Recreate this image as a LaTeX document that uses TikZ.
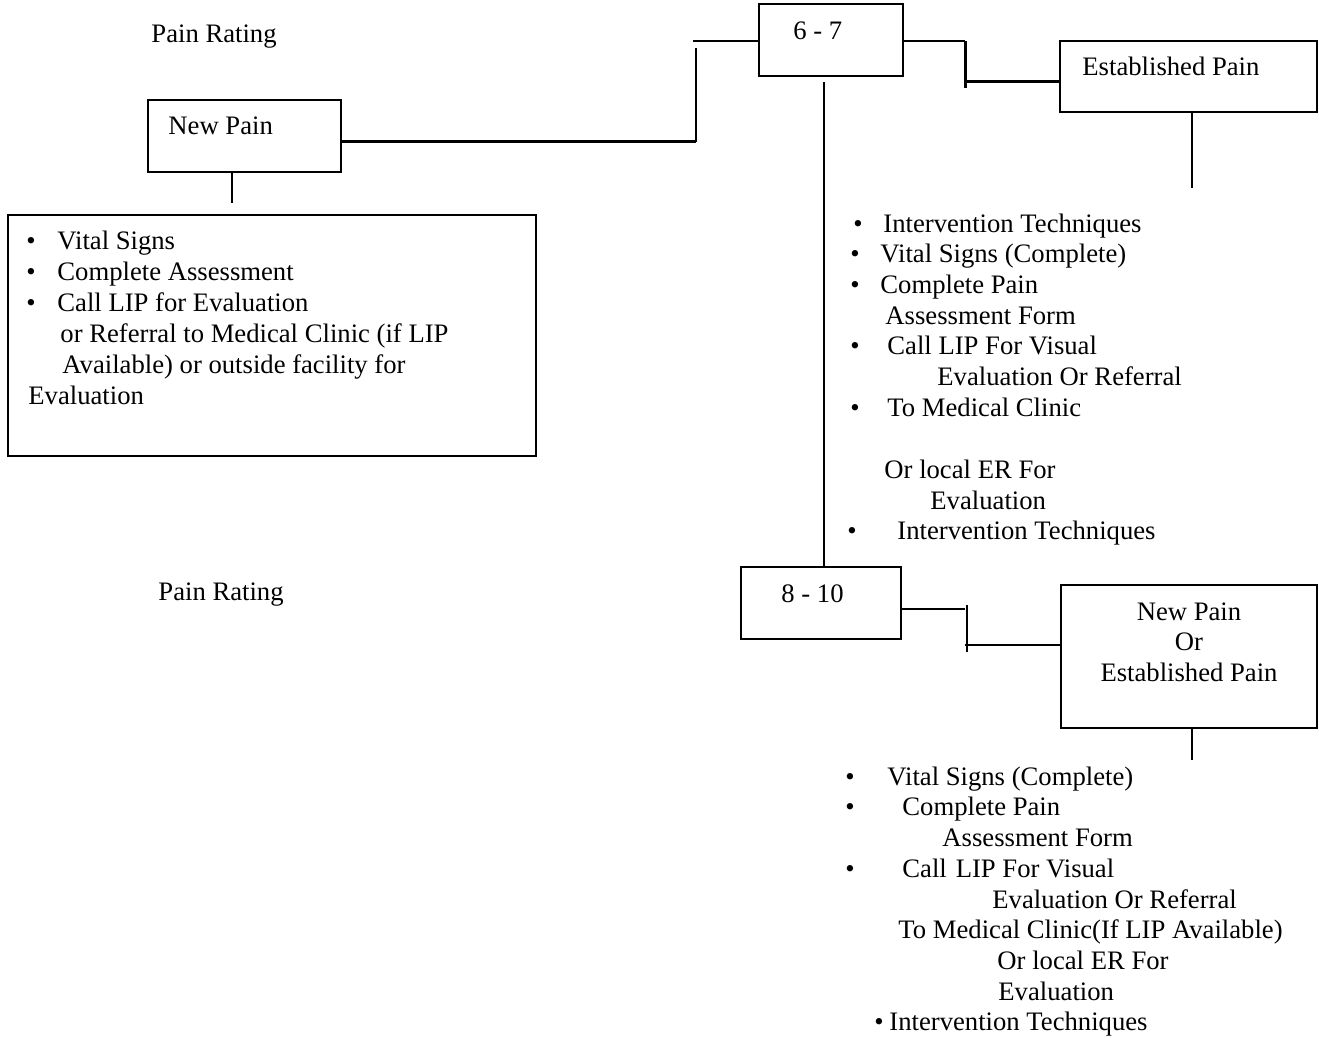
\documentclass[tikz,border=0pt]{standalone}
\usepackage{fontspec}
\setmainfont{Liberation Serif}
\usepackage{tikz}
\usetikzlibrary{positioning,calc}

\begin{document}
\begin{tikzpicture}[
        x=0.45pt, y=-0.45pt,
        box/.style={rectangle, draw, inner sep=0pt, line width=0.75pt},
        txt/.style={inner sep=0pt, anchor=base west, font=\fontsize{12pt}{13.95pt}\selectfont},
        ctxt/.style={txt, anchor=base},
        link/.style={draw, line width=0.9pt},
        thicklink/.style={draw, line width=1.35pt}
    ]
    \useasboundingbox (0,0) rectangle (1319,1038);

    % Pain Rating labels
    \node [txt] (rating1) at (151,43) {Pain Rating};
    \node [txt] (rating2) at (158,600) {Pain Rating};

    % New Pain box
    \node [box, minimum width=86.85pt, minimum height=32.4pt] (newpain) at (244.5,136) {};
    \node [txt] (newpaintxt) at (168,135) {New Pain};

    % New Pain actions
    \node [box, minimum width=237.6pt, minimum height=108.45pt] (newlist) at (272,335.5) {};
    \foreach \y [count=\i] in {250,281,312}
        \node [ctxt] (nlb\i) at (31,\y) {\textbullet};
    \foreach \x/\y/\t [count=\i] in {57/250/{Vital Signs}, 57/281/{Complete Assessment},
        57/312/{Call LIP for Evaluation}, 60/343/{or Referral to Medical Clinic (if LIP},
        62/374/{Available) or outside facility for}, 28/405/{Evaluation}}
        \node [txt] (nl\i) at (\x,\y) {\t};

    % 6 - 7 box
    \node [box, minimum width=64.8pt, minimum height=32.4pt] (sixseven) at (831,40) {};
    \node [txt] (sixseventxt) at (793,40) {6 - 7};

    % Established Pain box
    \node [box, minimum width=115.65pt, minimum height=31.95pt] (estab) at (1188.5,76.5) {};
    \node [txt] (estabtxt) at (1082,76) {Established Pain};

    % Established Pain actions
    \foreach \x/\y [count=\i] in {858/233, 855/263, 855/294, 855/355, 855/417, 852/539}
        \node [ctxt] (elb\i) at (\x,\y) {\textbullet};
    \foreach \x/\y/\t [count=\i] in {883/233/{Intervention Techniques}, 880/263/{Vital Signs (Complete)},
        880/294/{Complete Pain}, 885/325/{Assessment Form}, 887/355/{Call LIP For Visual},
        937/386/{Evaluation Or Referral}, 887/417/{To Medical Clinic}, 884/478/{Or local ER For},
        930/509/{Evaluation}, 897/539/{Intervention Techniques}}
        \node [txt] (el\i) at (\x,\y) {\t};

    % 8 - 10 box
    \node [box, minimum width=72pt, minimum height=32.4pt] (eightten) at (821,603) {};
    \node [txt] (eighttentxt) at (781,602) {8 - 10};

    % New Pain Or Established Pain box
    \node [box, minimum width=115.2pt, minimum height=64.35pt] (either) at (1189,656.5) {};
    \node [ctxt] (eithera) at (1189,620) {New Pain};
    \node [ctxt] (eitherb) at (1189,650) {Or};
    \node [ctxt] (eitherc) at (1189,681) {Established Pain};

    % New Pain Or Established Pain actions
    \foreach \x/\y [count=\i] in {850/785, 850/815, 850/877, 879/1030}
        \node [ctxt] (blb\i) at (\x,\y) {\textbullet};
    \foreach \x/\y/\t [count=\i] in {887/785/{Vital Signs (Complete)}, 902/815/{Complete Pain},
        942/846/{Assessment Form}, 902/877/{Call\hspace{4pt}LIP For Visual},
        992/908/{Evaluation Or Referral}, 898/938/{To Medical Clinic(If LIP Available)},
        997/969/{Or local ER For}, 998/1000/{Evaluation}, 889/1030/{Intervention Techniques}}
        \node [txt] (bl\i) at (\x,\y) {\t};

    % New Pain to 6 - 7
    \coordinate (npbend) at (696,142);
    \coordinate (nptop) at (696,48);
    \coordinate (toplead) at (693,41);
    \path [thicklink] (newpain.east |- npbend) -- (npbend);
    \path [link] (npbend) -- (nptop);
    \path [link] (toplead) -- (toplead -| sixseven.west);

    % 6 - 7 to Established Pain
    \coordinate (estbend) at (965,41);
    \coordinate (estdrop) at (965,88);
    \coordinate (estjoin) at (965,82);
    \path [link] (sixseven.east |- estbend) -- (estbend);
    \path [thicklink] (estbend) -- (estdrop);
    \path [thicklink] (estjoin) -- (estjoin -| estab.west);

    % 6 - 7 down to 8 - 10
    \coordinate (midtop) at (824,82);
    \path [link] (midtop) -- (midtop |- eightten.north);

    % 8 - 10 to New Pain Or Established Pain
    \coordinate (etbend) at (965,609);
    \coordinate (ettop) at (967,605);
    \coordinate (etbot) at (967,652);
    \coordinate (etjoin) at (965,645);
    \path [link] (eightten.east |- etbend) -- (etbend);
    \path [link] (ettop) -- (etbot);
    \path [link] (etjoin) -- (etjoin -| either.west);

    % Stubs below boxes
    \coordinate (npstub) at (232,203);
    \coordinate (eststub) at (1192,188);
    \coordinate (eitherstub) at (1192,760);
    \path [link] (npstub |- newpain.south) -- (npstub);
    \path [link] (eststub |- estab.south) -- (eststub);
    \path [link] (eitherstub |- either.south) -- (eitherstub);

\end{tikzpicture}
\end{document}
